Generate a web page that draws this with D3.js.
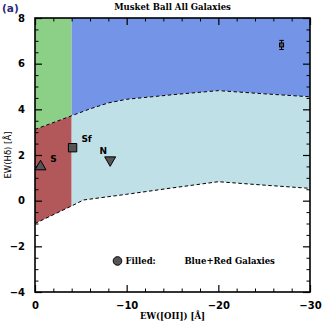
<!DOCTYPE html>
<html>
<head>
<meta charset="utf-8">
<script src="https://cdn.jsdelivr.net/npm/d3@7"></script>
<style>
  body { margin: 0; background: #fff; }
  text { fill: #000; }
</style>
</head>
<body>
<div id="chart"></div>
<script>
// boundary lines (EW[OII], EW(Hd))
const upperX = [0, -4, -6, -8, -10, -15, -20, -25, -30];
const upperY = [3.12, 3.72, 4.02, 4.28, 4.44, 4.64, 4.82, 4.68, 4.55];
const lowerX = [0, -4, -5.3, -10, -15, -20, -25, -30];
const lowerY = [-1.0, -0.23, 0.03, 0.28, 0.56, 0.83, 0.68, 0.54];
const splitX = -4;

// stacked points
const pointNames = ["S", "Sf", "N"];
const pointX = [-0.6, -4.1, -8.2];
const pointY = [1.49, 2.32, 1.78];
const pointShapes = ["triangleUp", "square", "triangleDown"];

// typical error bar
const errX = -26.9, errY = 6.82, errDx = 0.25, errDy = 0.2;

const xTicks = [0, -10, -20, -30];
const yTicks = [-4, -2, 0, 2, 4, 6, 8];

const W = 327, H = 327;
const margin = {top: 18, right: 17, bottom: 35, left: 35};
const width = W - margin.left - margin.right,
      height = H - margin.top - margin.bottom;

const svg = d3.select("#chart").append("svg")
  .attr("width", W).attr("height", H);
const g = svg.append("g")
  .attr("transform", `translate(${margin.left},${margin.top})`);

const x = d3.scaleLinear().domain([0, -30]).range([0, width]);
const y = d3.scaleLinear().domain([-4, 8]).range([height, 0]);

const upper = d3.scaleLinear().domain(upperX).range(upperY);
const lower = d3.scaleLinear().domain(lowerX).range(lowerY);
const allX = Array.from(new Set(upperX.concat(lowerX))).sort((a, b) => b - a);

const area = d3.area().x(d => x(d.x)).y0(d => y(d.y0)).y1(d => y(d.y1));
function samples(from, to, lo, hi) {
  return allX.filter(v => v <= from && v >= to).map(v => ({x: v, y0: lo(v), y1: hi(v)}));
}
const yMax = () => 8;
g.append("path").attr("d", area(samples(0, splitX, upper, yMax))).attr("fill", "#8ccf86");
g.append("path").attr("d", area(samples(splitX, -30, upper, yMax))).attr("fill", "#7494e8");
g.append("path").attr("d", area(samples(0, splitX, lower, upper))).attr("fill", "#b3585a");
g.append("path").attr("d", area(samples(splitX, -30, lower, upper))).attr("fill", "#bfe0e6");

g.append("path")
  .attr("d", d3.line()(upperX.map((v, i) => [x(v), y(upperY[i])])))
  .attr("fill", "none").attr("stroke", "#000").attr("stroke-width", 1)
  .attr("stroke-dasharray", "3.5,2.5");
g.append("path")
  .attr("d", d3.line()(lowerX.map((v, i) => [x(v), y(lowerY[i])])))
  .attr("fill", "none").attr("stroke", "#000").attr("stroke-width", 1)
  .attr("stroke-dasharray", "3.5,2.5");

// axes with inward ticks on all sides
function tickAxis(axis, scale, major, minorStep, transform) {
  const d = scale.domain();
  const lo = Math.min(d[0], d[1]), hi = Math.max(d[0], d[1]);
  const minor = d3.range(lo, hi + 1e-9, minorStep).filter(v => !major.includes(v));
  g.append("g").attr("transform", transform)
    .call(axis(scale).tickValues(minor).tickSize(-3.5).tickFormat(""))
    .call(s => s.select(".domain").remove())
    .call(s => s.selectAll("line").attr("stroke-width", 1));
  return g.append("g").attr("transform", transform)
    .call(axis(scale).tickValues(major).tickSize(-7).tickPadding(10)
      .tickFormat(v => v < 0 ? "\u2212" + Math.abs(v) : v))
    .call(s => s.select(".domain").remove())
    .call(s => s.selectAll("line").attr("stroke-width", 1.2))
    .call(s => s.selectAll("text").attr("font-family", "DejaVu Sans")
      .attr("font-weight", "bold").attr("font-size", 10).attr("fill", "#000"));
}
tickAxis(d3.axisBottom, x, xTicks, 2, `translate(0,${height})`);
tickAxis(d3.axisTop, x, xTicks, 2, "translate(0,0)").selectAll("text").remove();
tickAxis(d3.axisLeft, y, yTicks, 0.5, "translate(0,0)");
tickAxis(d3.axisRight, y, yTicks, 0.5, `translate(${width},0)`).selectAll("text").remove();

g.append("rect").attr("width", width).attr("height", height)
  .attr("fill", "none").attr("stroke", "#000").attr("stroke-width", 1.6);

// points
const sym = {
  triangleUp: d3.symbol(d3.symbolTriangle, 52),
  square: d3.symbol(d3.symbolSquare, 70),
  triangleDown: d3.symbol(d3.symbolTriangle, 52)
};
pointNames.forEach((name, i) => {
  g.append("path")
    .attr("d", sym[pointShapes[i]]())
    .attr("transform", `translate(${x(pointX[i])},${y(pointY[i])})` +
      (pointShapes[i] === "triangleDown" ? " rotate(180)" : ""))
    .attr("fill", "#555").attr("stroke", "#000").attr("stroke-width", 1);
});
const labelOff = [[13, -4.5], [14, -5.5], [-7, -6]];
pointNames.forEach((name, i) => {
  g.append("text")
    .attr("x", x(pointX[i]) + labelOff[i][0])
    .attr("y", y(pointY[i]) + labelOff[i][1])
    .attr("text-anchor", "middle")
    .attr("font-family", "DejaVu Sans").attr("font-weight", "bold").attr("font-size", 9)
    .text(name);
});

// error bar
const eb = g.append("g").attr("stroke", "#000").attr("stroke-width", 1);
eb.append("line").attr("x1", x(errX)).attr("x2", x(errX)).attr("y1", y(errY - errDy)).attr("y2", y(errY + errDy));
eb.append("line").attr("x1", x(errX - errDx)).attr("x2", x(errX + errDx)).attr("y1", y(errY - errDy)).attr("y2", y(errY - errDy));
eb.append("line").attr("x1", x(errX - errDx)).attr("x2", x(errX + errDx)).attr("y1", y(errY + errDy)).attr("y2", y(errY + errDy));
eb.append("line").attr("x1", x(errX - errDx)).attr("x2", x(errX + errDx)).attr("y1", y(errY)).attr("y2", y(errY));
eb.append("rect").attr("x", x(errX) - 2).attr("y", y(errY) - 2).attr("width", 4).attr("height", 4)
  .attr("fill", "#555");

// legend
g.append("circle").attr("cx", x(-9.0)).attr("cy", y(-2.64)).attr("r", 4.3)
  .attr("fill", "#555").attr("stroke", "#000").attr("stroke-width", 1);
g.append("text").attr("x", x(-9.0) + 8).attr("y", y(-2.64) + 3.5)
  .attr("font-family", "DejaVu Serif").attr("font-weight", "bold").attr("font-size", 8.5)
  .text("Filled:");
g.append("text").attr("x", x(-16.3)).attr("y", y(-2.64) + 3.5)
  .attr("font-family", "DejaVu Serif").attr("font-weight", "bold").attr("font-size", 8.5)
  .text("Blue+Red Galaxies");

// titles
svg.append("text").attr("x", margin.left + width / 2).attr("y", 10)
  .attr("text-anchor", "middle")
  .attr("font-family", "DejaVu Serif").attr("font-weight", "bold").attr("font-size", 8.5)
  .text("Musket Ball All Galaxies");
svg.append("text").attr("x", 2).attr("y", 12)
  .attr("font-family", "DejaVu Sans").attr("font-weight", "bold").attr("font-size", 10.5)
  .style("fill", "#2a2a7a").text("(a)");
svg.append("text").attr("x", margin.left + width / 2).attr("y", 319)
  .attr("text-anchor", "middle")
  .attr("font-family", "DejaVu Serif").attr("font-weight", "bold").attr("font-size", 8.5)
  .text("EW([OII]) [\u00c5]");
svg.append("text")
  .attr("transform", `translate(11,${margin.top + y(2)}) rotate(-90)`)
  .attr("text-anchor", "middle")
  .attr("font-family", "DejaVu Sans").attr("font-size", 8.5)
  .text("EW(H\u03b4) [\u00c5]");
</script>
</body>
</html>
